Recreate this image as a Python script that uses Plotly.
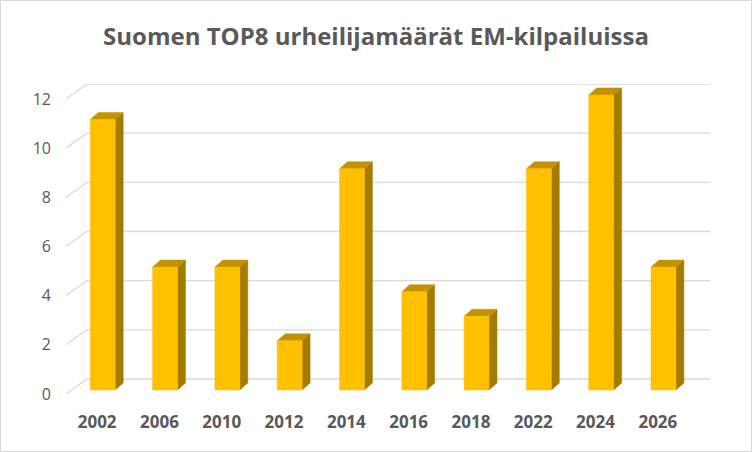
import plotly.graph_objects as go

years = ['2002', '2006', '2010', '2012', '2014', '2016', '2018', '2022', '2024', '2026']
counts = [11, 5, 5, 2, 9, 4, 3, 9, 12, 5]
y_ticks = [0, 2, 4, 6, 8, 10, 12]

# fake 3d geometry, in axis units
BACK_DX, BACK_DY = 0.337, 0.61     # front plane -> back wall
BAR_DX, BAR_DY = 0.09, 0.163       # front plane -> front face of the bars
DEPTH_DX, DEPTH_DY = 0.128, 0.285  # bar depth
W = 0.40

FRONT = '#FFC000'
TOP = '#C29200'
SIDE = '#A37B00'
GRID = '#D9D9D9'

W_PX, H_PX = 752, 452
L, R, T, B = 66, 42, 84, 58

fig = go.Figure()

# back wall gridlines + the slanted floor/side lines
gx, gy = [], []
for v in y_ticks:
    gx += [-0.5, -0.5 + BACK_DX, len(years) - 0.5 + BACK_DX, None]
    gy += [v, v + BACK_DY, v + BACK_DY, None]
fig.add_trace(go.Scatter(x=gx, y=gy, mode='lines', line=dict(color=GRID, width=1.3),
                         hoverinfo='skip', showlegend=False))

sx, sy, tx, ty, fx, fy = [], [], [], [], [], []
for i, v in enumerate(counts):
    xl = i + BAR_DX - W / 2
    xr = xl + W
    yb = BAR_DY
    yt = v + BAR_DY
    sx += [xr, xr + DEPTH_DX, xr + DEPTH_DX, xr, xr, None]
    sy += [yb, yb + DEPTH_DY, yt + DEPTH_DY, yt, yb, None]
    tx += [xl, xr, xr + DEPTH_DX, xl + DEPTH_DX, xl, None]
    ty += [yt, yt, yt + DEPTH_DY, yt + DEPTH_DY, yt, None]
    fx += [xl, xr, xr, xl, xl, None]
    fy += [yb, yb, yt, yt, yb, None]

for xs, ys, col in [(sx, sy, SIDE), (tx, ty, TOP), (fx, fy, FRONT)]:
    fig.add_trace(go.Scatter(x=xs, y=ys, mode='lines', fill='toself', fillcolor=col,
                             line=dict(color=col, width=0.5), hoverinfo='skip',
                             showlegend=False))

pw = W_PX - L - R
ph = H_PX - T - B
fig.add_shape(type='rect', xref='paper', yref='paper',
              x0=-(L - 0.5) / pw, x1=1 + (R - 0.5) / pw,
              y0=-(B - 0.5) / ph, y1=1 + (T - 0.5) / ph,
              line=dict(color=GRID, width=1))

fig.update_layout(
    width=W_PX, height=H_PX,
    margin=dict(l=L, r=R, t=T, b=B),
    paper_bgcolor='white', plot_bgcolor='white',
    title=dict(text='<b>Suomen TOP8 urheilijamäärät EM-kilpailuissa</b>',
               x=0.5, xref='container', xanchor='center', y=1 - 37 / H_PX, yanchor='middle',
               font=dict(family='Open Sans', size=24, color='#595959')),
    xaxis=dict(range=[-0.5, len(years) - 0.5 + BACK_DX], tickvals=list(range(len(years))),
               ticktext=['<b>%s</b>' % y for y in years], showgrid=False, zeroline=False,
               showline=False, ticks='', ticklabelstandoff=16,
               tickfont=dict(family='Open Sans', size=17, color='#595959')),
    yaxis=dict(range=[0, 12 + BACK_DY], tickvals=y_ticks, showgrid=False, zeroline=False,
               showline=False, ticks='', ticklabelstandoff=14,
               tickfont=dict(family='Open Sans', size=16, color='#595959')),
)
fig.update_xaxes(fixedrange=True)
fig.update_yaxes(fixedrange=True)

# the page's default body margin would push the chart off by 8px
fig.write_html("out.html", config={'displayModeBar': False},
               post_script="document.body.style.margin='0';")
